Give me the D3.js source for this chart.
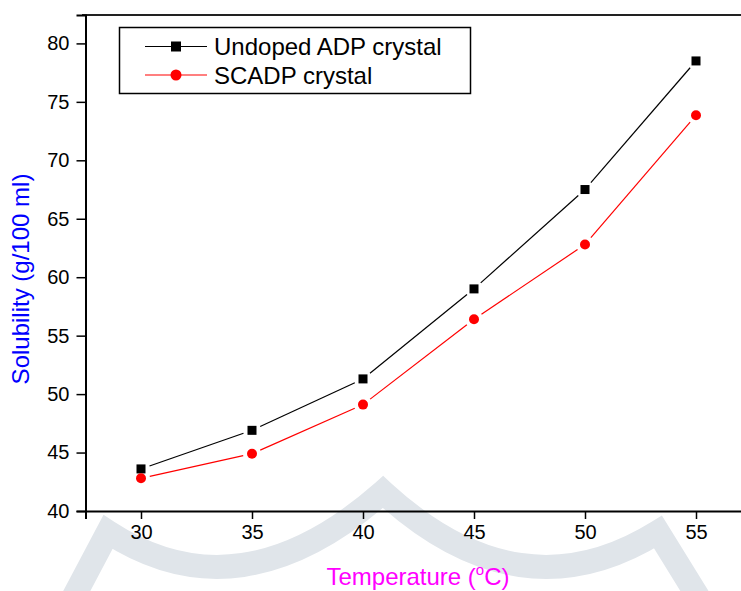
<!DOCTYPE html>
<html>
<head>
<meta charset="utf-8">
<script src="https://cdn.jsdelivr.net/npm/d3@7"></script>
<style>
  body { margin: 0; background: #fff; }
  svg text { font-family: "Liberation Sans", Arial, sans-serif; }
</style>
</head>
<body>
<div id="chartCt"></div>
<script>
// data
var temps = [30, 35, 40, 45, 50, 55];
var undopedADP = [43.6, 46.9, 51.3, 59.0, 67.5, 78.5];
var scadp = [42.8, 44.9, 49.1, 56.4, 62.8, 73.85];
var seriesNames = ["Undoped ADP crystal", "SCADP crystal"];
var xTickLabels = [30, 35, 40, 45, 50, 55];
var yTickLabels = [40, 45, 50, 55, 60, 65, 70, 75, 80];

var width = 741, height = 591;

var svg = d3.select("#chartCt")
    .append("svg")
    .attr("width", width)
    .attr("height", height);

// faint watermark behind the plot
var wm = d3.path();
wm.moveTo(72, 600);
wm.lineTo(108, 532);
wm.quadraticCurveTo(240, 618, 383, 492);
wm.quadraticCurveTo(520, 618, 658, 532);
wm.lineTo(700, 600);
svg.append("path")
    .attr("d", wm.toString())
    .attr("fill", "none")
    .attr("stroke", "#e0e5ea")
    .attr("stroke-width", 24)
    .attr("stroke-linejoin", "miter");

var x = d3.scaleLinear().domain([27.5, 57.5]).range([85.5, 751.5]);
var y = d3.scaleLinear().domain([40, 82.43]).range([511, 15]);

// top frame
svg.append("line")
    .attr("x1", 82).attr("x2", width)
    .attr("y1", y(82.43)).attr("y2", y(82.43))
    .attr("stroke", "#222").attr("stroke-width", 2);

// axes with major + minor ticks
var xMinor = d3.range(27.5, 57.6, 2.5).filter(function (d) { return d % 5 !== 0; });
var yMinor = d3.range(42.5, 82.6, 5);

var xAxisG = svg.append("g").attr("transform", "translate(0," + y(40) + ")");
xAxisG.call(d3.axisBottom(x).tickValues(xMinor).tickSize(5).tickFormat(""));
xAxisG.call(d3.axisBottom(x).tickValues(xTickLabels).tickSize(8).tickPadding(6));

var yAxisG = svg.append("g").attr("transform", "translate(" + x(27.5) + ",0)");
yAxisG.call(d3.axisLeft(y).tickValues(yMinor).tickSize(5).tickFormat(""));
yAxisG.call(d3.axisLeft(y).tickValues(yTickLabels).tickSize(9).tickPadding(7));

svg.selectAll(".domain").attr("stroke", "#000").attr("stroke-width", 2);
svg.selectAll(".tick line").attr("stroke", "#000").attr("stroke-width", 1.5);
svg.selectAll(".tick text").attr("font-size", 20).attr("fill", "#000")
    .style("font-family", "Liberation Sans, Arial, sans-serif");

// connecting lines with a gap near each marker
function drawSeries(vals, color) {
    var pts = temps.map(function (t, i) { return [x(t), y(vals[i])]; });
    var gap = 9;
    for (var i = 0; i < pts.length - 1; i++) {
        var a = pts[i], b = pts[i + 1];
        var dx = b[0] - a[0], dy = b[1] - a[1];
        var len = Math.sqrt(dx * dx + dy * dy);
        var ux = dx / len, uy = dy / len;
        svg.append("line")
            .attr("x1", a[0] + ux * gap).attr("y1", a[1] + uy * gap)
            .attr("x2", b[0] - ux * gap).attr("y2", b[1] - uy * gap)
            .attr("stroke", color).attr("stroke-width", 1.2);
    }
    return pts;
}

var blackPts = drawSeries(undopedADP, "#000");
var redPts = drawSeries(scadp, "#f00");

svg.selectAll(".sq").data(blackPts).enter().append("rect")
    .attr("x", function (d) { return d[0] - 4.5; })
    .attr("y", function (d) { return d[1] - 4.5; })
    .attr("width", 9).attr("height", 9)
    .attr("fill", "#000");

svg.selectAll(".ci").data(redPts).enter().append("circle")
    .attr("cx", function (d) { return d[0]; })
    .attr("cy", function (d) { return d[1]; })
    .attr("r", 5)
    .attr("fill", "#f00");

// legend
var lg = svg.append("g");
lg.append("rect")
    .attr("x", 119.5).attr("y", 27.5)
    .attr("width", 351).attr("height", 66)
    .attr("fill", "#fff").attr("stroke", "#000").attr("stroke-width", 1.5);

var rows = [46.5, 75];
[0, 1].forEach(function (i) {
    var col = i === 0 ? "#000" : "#f00";
    lg.append("line")
        .attr("x1", 145).attr("x2", 207)
        .attr("y1", rows[i]).attr("y2", rows[i])
        .attr("stroke", col).attr("stroke-width", 1.2);
    if (i === 0) {
        lg.append("rect").attr("x", 171).attr("y", rows[i] - 5)
            .attr("width", 10).attr("height", 10).attr("fill", "#000");
    } else {
        lg.append("circle").attr("cx", 176).attr("cy", rows[i])
            .attr("r", 5.5).attr("fill", "#f00");
    }
    lg.append("text")
        .attr("x", 214).attr("y", rows[i] + 8.5)
        .attr("font-size", 24)
        .attr("fill", "#000")
        .text(seriesNames[i]);
});

// axis titles
var xt = svg.append("text")
    .attr("x", 418).attr("y", 585)
    .attr("text-anchor", "middle")
    .attr("font-size", 24)
    .attr("fill", "#ff00ff");
xt.append("tspan").text("Temperature (");
xt.append("tspan").attr("dy", -10).attr("font-size", 15).text("o");
xt.append("tspan").attr("dy", 10).text("C)");

svg.append("text")
    .attr("transform", "translate(29,279) rotate(-90)")
    .attr("text-anchor", "middle")
    .attr("font-size", 24)
    .attr("fill", "#0000ff")
    .text("Solubility (g/100 ml)");
</script>
</body>
</html>
